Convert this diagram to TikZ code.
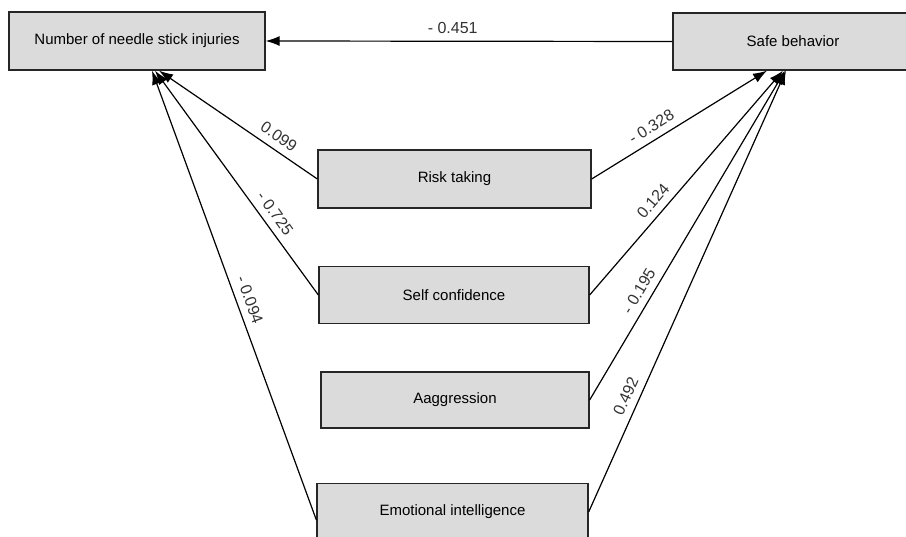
\documentclass[tikz,border=0pt]{standalone}
\usepackage{fontspec}
\setmainfont{Liberation Sans}
\usetikzlibrary{arrows.meta}
\tikzstyle{factor} = [draw=black!85, line width=1.3pt, fill=black!14, minimum height=57pt, inner sep=0pt, font=\fontsize{15}{18}\selectfont]
\tikzstyle{coef}   = [font=\fontsize{16}{19}\selectfont, text=black!80, sloped, above=5pt, inner sep=2pt]

\begin{document}
\begin{tikzpicture}[x=1pt, y=-1pt, ->, >={Latex[length=14pt,width=10pt]}, line width=1.2pt]
\useasboundingbox (0,0) rectangle (906,537);
\node[factor, minimum width=256pt, minimum height=58pt] (injuries) at (137,41) {Number of needle stick injuries};
\node[factor, minimum width=240pt] (safe) at (793,41.5) {Safe behavior};
\node[factor, minimum width=273pt, minimum height=58pt] (risk) at (454.5,179) {Risk taking};
\node[factor, minimum width=270pt] (self) at (454,295) {Self confidence};
\node[factor, minimum width=268pt, minimum height=56pt] (aggr) at (455,400) {Aaggression};
\node[factor, minimum width=271pt] (emot) at (452.5,512) {Emotional intelligence};

% paths to needle stick injuries
\draw (safe.west) -- node[coef, pos=0.54] {- 0.451} (injuries.east);
\draw (risk.west) -- node[coef, pos=0.29] {0.099} ([xshift=22pt]injuries.south);
\draw (self.west) -- node[coef, pos=0.33] {- 0.725} ([xshift=18pt]injuries.south);
\draw ([yshift=-8pt]emot.west) -- node[coef, pos=0.48] {- 0.094} ([xshift=15pt]injuries.south);

% paths to safe behavior
\draw (risk.east) -- node[coef, pos=0.38] {- 0.328} ([xshift=-26pt]safe.south);
\draw (self.east) -- node[coef, pos=0.38] {0.124} ([xshift=-10pt]safe.south);
\draw (aggr.east) -- node[coef, pos=0.31] {- 0.195} ([xshift=-8pt]safe.south);
\draw (emot.east) -- node[coef, pos=0.25] {0.492} ([xshift=-7pt]safe.south);
\end{tikzpicture}
\end{document}
